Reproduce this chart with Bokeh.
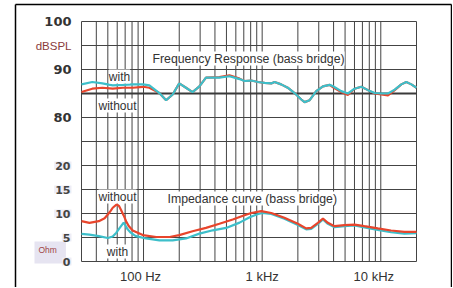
import math
from bokeh.plotting import figure
from bokeh.models import Range1d, Label
from bokeh.embed import file_html
from bokeh.resources import INLINE

# ---------------- data ----------------
fr_freq = [30, 37, 45, 55, 67, 81, 99, 112, 136, 155, 176, 200, 228, 259, 296, 336,
           436, 530, 645, 709, 810, 921, 1048, 1194, 1271, 1446, 1643, 1875, 2137,
           2280, 2513, 2858, 3254, 3705, 3960, 4640, 5280, 6010, 6850, 7800, 8880,
           10100, 11500, 13100, 14900, 16400, 18100, 20000]
fr_with = [86.9, 87.4, 87.1, 86.7, 86.8, 86.9, 86.9, 86.7, 85.1, 83.6, 84.8, 87.1,
           86.2, 85.3, 86.5, 88.3, 88.3, 88.6, 88.0, 87.6, 87.7, 87.4, 87.2, 87.1,
           87.4, 86.9, 86.2, 85.1, 83.75, 83.2, 83.6, 85.5, 86.5, 86.8, 86.5, 85.5,
           85.0, 86.0, 86.4, 85.7, 85.1, 85.0, 85.0, 85.8, 86.9, 87.4, 86.9, 86.2]
fr_without = [85.3, 86.0, 86.2, 86.0, 86.2, 86.2, 86.4, 86.2, 85.1, 83.6, 84.8, 87.1,
              86.2, 85.3, 86.5, 88.3, 88.4, 88.8, 88.1, 87.6, 87.7, 87.4, 87.2, 87.1,
              87.4, 86.9, 86.2, 85.1, 83.75, 83.2, 83.6, 85.5, 86.5, 86.8, 86.3, 85.3,
              84.7, 86.0, 86.4, 85.7, 85.0, 84.8, 84.6, 85.7, 86.9, 87.4, 86.9, 86.2]

imp_without_freq = [30, 35, 42, 47, 50, 53, 55, 59.5, 62, 64.5, 68, 71.3, 75, 81, 98.6,
                    128, 166, 200, 259, 336, 436, 565, 709, 810, 982, 1194, 1540, 2000,
                    2350, 2590, 2950, 3254, 3580, 4070, 4950, 6010, 7270, 9440, 12200,
                    15800, 20000]
imp_without = [8.4, 8.06, 8.4, 9.0, 9.8, 10.6, 11.2, 11.9, 11.6, 10.8, 9.6, 8.4, 7.4,
               6.46, 5.5, 5.1, 5.1, 5.5, 6.3, 7.0, 7.85, 8.75, 9.65, 10.1, 10.5, 10.1,
               9.1, 7.85, 6.9, 7.0, 8.06, 8.96, 8.06, 7.36, 7.57, 7.7, 7.36, 6.9, 6.46,
               6.18, 6.18]
imp_with_freq = [30, 35, 42, 50, 55, 59, 63, 68, 70, 73.5, 78, 86, 105, 136, 176, 228,
                 296, 384, 497, 645, 785, 900, 1000, 1194, 1540, 2000, 2350, 2590, 2950,
                 3254, 3580, 4070, 4950, 6010, 7270, 9440, 12200, 15800, 20000]
imp_with = [5.77, 5.6, 5.3, 4.9, 5.2, 6.0, 7.0, 8.1, 7.6, 6.7, 6.0, 5.3, 4.8, 4.4, 4.4,
            4.8, 5.8, 6.5, 7.0, 8.1, 9.2, 9.8, 10.1, 9.9, 8.9, 7.6, 6.7, 6.8, 7.85, 8.75,
            7.85, 7.15, 7.35, 7.5, 7.1, 6.6, 6.1, 5.8, 5.9]

x_ticks = [100, 1000, 10000]
x_tick_labels = ["100 Hz", "1 kHz", "10 kHz"]
grid_freqs = [30, 40, 50, 60, 70, 80, 90, 100, 200, 300, 400, 500, 600, 700, 800, 900,
              1000, 2000, 3000, 4000, 5000, 6000, 7000, 8000, 9000, 10000, 20000]
db_ticks = [80, 90, 100]
ohm_ticks = [0, 5, 10, 15, 20]
grid_levels = list(range(0, 51, 5))     # ohm scale; dB = ohm + 50
ref_db = 85
F_MIN, F_MAX = 30, 20000
OHM_MAX = 50
DB_OFFSET = 50

# ---------------- layout (page pixels) ----------------
W, H = 452, 287
ORIGIN = 1                       # canvas starts at page pixel 1
FRAME_L, FRAME_R, FRAME_T, FRAME_B = 82, 417, 22, 262
PX_DEC = (FRAME_R - FRAME_L) / math.log10(F_MAX / F_MIN)
PX_UNIT = (FRAME_B - FRAME_T) / OHM_MAX
X_LABEL_NUDGE = [-3, 0, -7]


def fx(px):
    return 10 ** (math.log10(F_MIN) + (px - FRAME_L) / PX_DEC)


def uy(py):
    return OHM_MAX - (py - FRAME_T) / PX_UNIT


RED = "#e8452c"
CYAN = "#3dbfca"
GRID = "#444444"
TXT = "#333333"
FONT = "Liberation Sans"

p = figure(width=W, height=H, x_axis_type="log",
           x_range=Range1d(fx(ORIGIN), fx(ORIGIN + W)),
           y_range=Range1d(uy(ORIGIN + H), uy(ORIGIN)),
           output_backend="svg", toolbar_location=None,
           min_border_left=0, min_border_right=0, min_border_top=0, min_border_bottom=0)
p.extra_y_ranges = {"db": Range1d(uy(ORIGIN + H) + DB_OFFSET, uy(ORIGIN) + DB_OFFSET)}
p.xaxis.visible = False
p.yaxis.visible = False
p.xgrid.visible = False
p.ygrid.visible = False
p.outline_line_color = None
p.background_fill_color = "white"
p.border_fill_color = "white"

# grid
n_v = len(grid_freqs)
n_h = len(grid_levels)
p.segment(x0=grid_freqs, x1=grid_freqs, y0=[0] * n_v, y1=[OHM_MAX] * n_v,
          line_color=GRID, line_width=1)
p.segment(x0=[F_MIN] * n_h, x1=[F_MAX] * n_h, y0=grid_levels, y1=grid_levels,
          line_color=GRID, line_width=1)
p.segment(x0=[F_MIN], x1=[F_MAX], y0=[ref_db], y1=[ref_db], y_range_name="db",
          line_color="#3a3a3a", line_width=2)
# keep the area under the chart clean
p.quad(left=[fx(76)], right=[fx(424)], bottom=[uy(300)], top=[uy(FRAME_B + 1)],
       fill_color="white", line_color=None)

# outer frame
bl, br, bt, bb = fx(16), fx(452), uy(5), uy(300)
p.segment(x0=[bl, bl, br], x1=[bl, br, br], y0=[bb, bt, bt], y1=[bt, bt, bb],
          line_color="black", line_width=1.5)

# curves
p.line(fr_freq, fr_without, y_range_name="db", line_color=RED, line_width=2.2)
p.line(fr_freq, fr_with, y_range_name="db", line_color=CYAN, line_width=2.2)
p.line(imp_with_freq, imp_with, line_color=CYAN, line_width=2.2)
p.line(imp_without_freq, imp_without, line_color=RED, line_width=2.2)


def note(text, x, y, align="center", size="12px"):
    p.add_layout(Label(x=x, y=y, text=text, text_align=align, text_baseline="middle",
                       text_font=FONT, text_font_size=size, text_color=TXT,
                       background_fill_color="white"))


note("Frequency Response (bass bridge)", fx(153), uy(59), align="left", size="12.3px")
note("Impedance curve (bass bridge)", fx(168), uy(199), align="left", size="12.3px")
note("with", fx(120), uy(77))
note("without", fx(118), uy(106))
note("without", fx(118), uy(197))
note("with", fx(118), uy(252))

# Ohm box
p.add_layout(Label(x=fx(35), y=uy(253), text="Ohm", text_align="left",
                   text_baseline="middle", text_font=FONT, text_font_size="8.5px",
                   text_color="#a04545", background_fill_color="#e6e4f1",
                   padding=dict(left=4, right=9, top=3, bottom=9)))

# y tick labels
LBL_X = fx(72)
for v in db_ticks:
    p.add_layout(Label(x=LBL_X, y=v, y_range_name="db", text=str(v),
                       text_align="right", text_baseline="middle", text_font="DejaVu Sans",
                       text_font_size="13px", text_font_style="bold", text_color=TXT))
p.add_layout(Label(x=LBL_X, y=95, y_range_name="db", text="dBSPL",
                   text_align="right", text_baseline="middle", text_font=FONT,
                   text_font_size="11.5px", text_color="#8a3b3b"))
for v in ohm_ticks:
    p.add_layout(Label(x=LBL_X, y=v, text=str(v),
                       text_align="right", text_baseline="middle", text_font="DejaVu Sans",
                       text_font_size="11px", text_font_style="bold", text_color="#444444",
                       background_fill_color="#eeedf6",
                       padding=dict(left=1, right=1, top=0, bottom=0)))

# x tick labels
for t, l, dx in zip(x_ticks, x_tick_labels, X_LABEL_NUDGE):
    p.add_layout(Label(x=t, y=uy(277), x_offset=dx, text=l, text_align="center",
                       text_baseline="middle", text_font=FONT, text_font_size="13px",
                       text_color=TXT))

open("out.html", "w").write(file_html(p, INLINE))
